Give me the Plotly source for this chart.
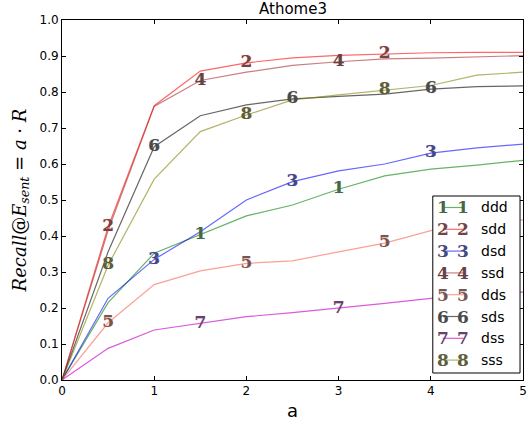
import plotly.graph_objects as go

x_vals = [0, 0.5, 1, 1.5, 2, 2.5, 3, 3.5, 4, 4.5, 5]
names = ["ddd", "sdd", "dsd", "ssd", "dds", "sds", "dss", "sss"]
digits = ["1", "2", "3", "4", "5", "6", "7", "8"]
ddd = [0, 0.215, 0.352, 0.403, 0.456, 0.486, 0.530, 0.567, 0.586, 0.597, 0.610]
sdd = [0, 0.425, 0.762, 0.858, 0.881, 0.895, 0.902, 0.906, 0.909, 0.910, 0.910]
dsd = [0, 0.227, 0.335, 0.412, 0.500, 0.551, 0.581, 0.600, 0.630, 0.645, 0.655]
ssd = [0, 0.415, 0.760, 0.832, 0.855, 0.874, 0.884, 0.892, 0.894, 0.897, 0.901]
dds = [0, 0.159, 0.265, 0.303, 0.324, 0.331, 0.356, 0.380, 0.415, 0.435, 0.445]
sds = [0, 0.356, 0.648, 0.734, 0.764, 0.781, 0.788, 0.794, 0.808, 0.815, 0.817]
dss = [0, 0.088, 0.139, 0.157, 0.176, 0.187, 0.199, 0.213, 0.227, 0.241, 0.244]
sss = [0, 0.319, 0.558, 0.690, 0.736, 0.778, 0.792, 0.806, 0.818, 0.847, 0.855]
series = [ddd, sdd, dsd, ssd, dds, sds, dss, sss]
mark_idx = [[3, 6], [1, 4, 7], [2, 5, 8], [3, 6], [1, 4, 7], [2, 5, 8], [3, 6], [1, 4, 7]]

line_colors = ["rgba(0,128,0,0.6)", "rgba(255,0,0,0.6)", "rgba(0,0,255,0.6)",
               "rgba(165,42,42,0.6)", "rgba(250,128,114,0.75)", "rgba(0,0,0,0.6)",
               "rgba(200,0,200,0.65)", "rgba(128,128,0,0.6)"]
text_colors = ["#4a664a", "#744444", "#48487a", "#664444", "#755650", "#4a4a4a", "#664466", "#5e5e3c"]
shadow_colors = ["rgba(0,128,0,0.35)", "rgba(255,0,0,0.35)", "rgba(0,0,255,0.35)",
                 "rgba(165,42,42,0.35)", "rgba(250,128,114,0.45)", "rgba(0,0,0,0.3)",
                 "rgba(200,0,200,0.35)", "rgba(128,128,0,0.35)"]

fig = go.Figure()
for i, ys in enumerate(series):
    fig.add_trace(go.Scatter(x=x_vals, y=ys, mode="lines", name=names[i],
                             line=dict(color=line_colors[i], width=1.2), showlegend=False))
for i, ys in enumerate(series):
    fig.add_trace(go.Scatter(x=[x_vals[k] for k in mark_idx[i]], y=[ys[k] for k in mark_idx[i]],
                             mode="text", text=[digits[i]] * len(mark_idx[i]),
                             textposition="middle center",
                             textfont=dict(family="DejaVu Serif", size=17, color=text_colors[i],
                                           weight="bold", shadow="0px 0px 1px " + shadow_colors[i]),
                             showlegend=False, hoverinfo="skip"))

# manual legend (paper coordinates)
L, R, T, B = 62, 527, 20, 380
W, H = R - L, B - T
def px(xp):
    return (xp - L) / W
def py(yp):
    return (B - yp) / H

shapes = [dict(type="rect", xref="paper", yref="paper", x0=px(436), x1=px(524),
               y0=py(373), y1=py(196), line=dict(color="black", width=1),
               fillcolor="white", layer="above")]
annotations = []
for i in range(8):
    yc = 207.5 + i * 21.8
    shapes.append(dict(type="line", xref="paper", yref="paper", x0=px(446), x1=px(467),
                       y0=py(yc), y1=py(yc), line=dict(color=line_colors[i], width=1.2), layer="above"))
    for xd in (446.5, 466.5):
        annotations.append(dict(x=px(xd), y=py(yc), xref="paper", yref="paper", text="<b>" + digits[i] + "</b>",
                                showarrow=False, xanchor="center", yanchor="middle",
                                font=dict(family="DejaVu Serif", size=17, color=text_colors[i])))
    annotations.append(dict(x=px(483), y=py(yc), xref="paper", yref="paper", text=names[i],
                            showarrow=False, xanchor="left", yanchor="middle",
                            font=dict(family="DejaVu Sans", size=14, color="black")))

annotations.append(dict(x=0.5, y=1.0, xref="paper", yref="paper", text="Athome3",
                        showarrow=False, xanchor="center", yanchor="bottom", yshift=0,
                        font=dict(family="DejaVu Sans", size=15, color="black")))

fig.update_layout(
    width=531, height=423,
    margin=dict(l=L, r=531 - R, t=T, b=423 - B),
    paper_bgcolor="white", plot_bgcolor="white",
    shapes=shapes, annotations=annotations,
    xaxis=dict(range=[0, 5], tickvals=[0, 1, 2, 3, 4, 5], showgrid=False, zeroline=False,
               showline=True, linecolor="black", linewidth=1, mirror="ticks",
               ticks="inside", ticklen=4, tickcolor="black",
               tickfont=dict(family="DejaVu Sans", size=12, color="black"),
               title=dict(text="a", font=dict(family="DejaVu Sans", size=18, color="black"), standoff=6)),
    yaxis=dict(range=[0, 1], tickvals=[i / 10 for i in range(11)], tickformat=".1f",
               showgrid=False, zeroline=False,
               showline=True, linecolor="black", linewidth=1, mirror="ticks",
               ticks="inside", ticklen=4, tickcolor="black",
               tickfont=dict(family="DejaVu Sans", size=12, color="black"),
               title=dict(text="<i>Recall</i>@<i>E</i><sub><i>sent</i></sub> = <i>a</i> · <i>R</i>",
                          font=dict(family="DejaVu Serif", size=18, color="black"), standoff=8)),
)
fig.write_html("out.html")
